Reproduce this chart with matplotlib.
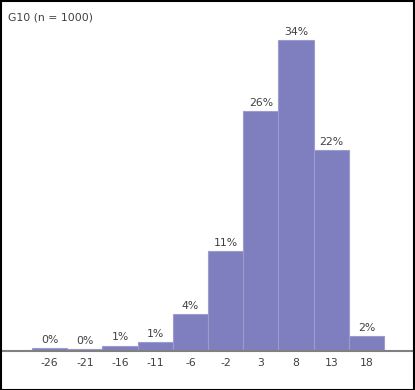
import matplotlib.pyplot as plt
from matplotlib.patches import Rectangle

# histogram bins (centre labels) and share of the 1000 cases, in percent
bins = ["-26", "-21", "-16", "-11", "-6", "-2", "3", "8", "13", "18"]
percent = [0.3, 0.2, 0.6, 1.0, 4.0, 10.9, 26.2, 34.0, 22.0, 1.6]
labels = ["0%", "0%", "1%", "1%", "4%", "11%", "26%", "34%", "22%", "2%"]
title = "G10 (n = 1000)"


def main():
    W, H = 415, 390
    fig = plt.figure(figsize=(W / 100, H / 100), dpi=100)
    # axes: from x=2 to 413 px, baseline at y=351 px
    ax = fig.add_axes([2 / W, (H - 351) / H, 411 / W, 349 / H])

    x = list(range(len(bins)))
    ax.bar(x, percent, width=1.0, color="#7f7fbf", edgecolor="#9c9cd0", linewidth=0.8)
    for xi, p, lab in zip(x, percent, labels):
        ax.text(xi, p + 0.35, lab, ha="center", va="bottom", fontsize=7.8, color="#404040")

    px = 35.2
    ax.set_xlim(-0.5 - 30 / px, 9.5 + 29 / px)
    ax.set_ylim(0, 34.0 * 349 / 311)
    ax.set_xticks(x)
    ax.set_xticklabels(bins, fontsize=7.8, color="#404040")
    ax.tick_params(axis="x", length=0, pad=5)
    ax.set_yticks([])
    for s in ["top", "right", "left"]:
        ax.spines[s].set_visible(False)
    ax.spines["bottom"].set_color("#808080")
    ax.spines["bottom"].set_linewidth(1.5)

    fig.text(8 / W, 1 - 17 / H, title, fontsize=7.8, color="#404040", va="center")
    fig.patches.append(Rectangle((0.5 / W, 0.5 / H), (W - 1.5) / W, (H - 1.5) / H,
                                 transform=fig.transFigure, fill=False,
                                 edgecolor="black", linewidth=1.5))
    fig.savefig("out.png", dpi=100)


if __name__ == '__main__':
    main()
